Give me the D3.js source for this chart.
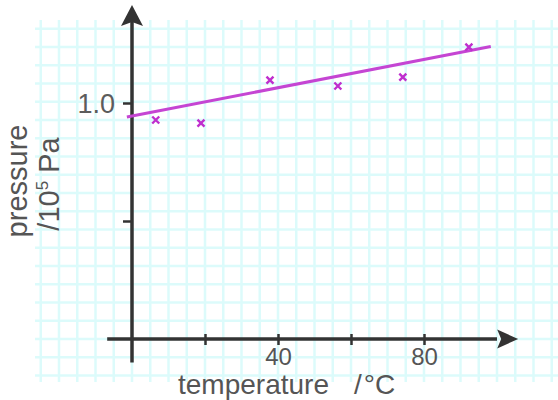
<!DOCTYPE html>
<html>
<head>
<meta charset="utf-8">
<script src="https://cdn.jsdelivr.net/npm/d3@7"></script>
<style>
  body { margin: 0; background: #fff; }
  svg { display: block; }
  text { font-family: "Liberation Sans", Arial, sans-serif; }
</style>
</head>
<body>
<div id="container"></div>
<script>
/* DATA */
const temperatures = [6.5, 18.9, 37.8, 56.4, 74.2, 92.3];
const pressures = [0.928, 0.915, 1.097, 1.072, 1.110, 1.237];
// best-fit line drawn on the graph (two ends)
const fitTemps = [-1.4, 98.3];
const fitPressures = [0.941, 1.239];
const xTicks = [20, 40, 60, 80];
const xTickLabels = ["", "40", "", "80"];
const yTicks = [0.5, 1.0];
const yTickLabels = ["", "1.0"];

const width = 558, height = 400;

/* SCALES */
const x = d3.scaleLinear().domain([0, 80]).range([132, 424]);
const y = d3.scaleLinear().domain([0, 1]).range([339, 103]);

const svg = d3.select("#container").append("svg")
  .attr("width", width)
  .attr("height", height);

/* GRAPH PAPER GRID */
const cell = x(5) - x(0);
const gridBox = { x0: 35, x1: 558, y0: 20, y1: 382 };
const grid = svg.append("g").attr("stroke", "#dcfbfb").attr("stroke-width", 2.5);

d3.range(-25, 120, 5).forEach(t => {
  grid.append("line")
    .attr("x1", x(t)).attr("x2", x(t))
    .attr("y1", gridBox.y0).attr("y2", gridBox.y1);
});
d3.range(-2, 18).forEach(k => {
  const py = y(0) - k * cell;
  grid.append("line")
    .attr("x1", gridBox.x0).attr("x2", gridBox.x1)
    .attr("y1", py).attr("y2", py);
});

/* AXES */
const axisColor = "#333";

// x axis
const xAxis = svg.append("g")
  .attr("transform", "translate(0," + y(0) + ")")
  .call(d3.axisBottom(x).tickValues(xTicks).tickSize(6).tickFormat((d, i) => xTickLabels[i]));
xAxis.select(".domain").remove();
xAxis.selectAll(".tick line")
  .attr("y1", -5)
  .attr("stroke", axisColor)
  .attr("stroke-width", 2.5);
xAxis.selectAll(".tick text")
  .attr("y", 26)
  .attr("dy", 0)
  .attr("fill", "#555")
  .style("font-size", "24px");

// y axis
const yAxis = svg.append("g")
  .attr("transform", "translate(" + x(0) + ",0)")
  .call(d3.axisLeft(y).tickValues(yTicks).tickSize(9).tickPadding(8).tickFormat((d, i) => yTickLabels[i]));
yAxis.select(".domain").remove();
yAxis.selectAll(".tick line")
  .attr("stroke", axisColor)
  .attr("stroke-width", 2.5);
yAxis.selectAll(".tick text")
  .attr("dy", "0.36em")
  .attr("fill", "#5c5c5c")
  .style("font-size", "27px");

// axis lines with arrows
svg.append("line")
  .attr("x1", x(-6.8)).attr("x2", x(100))
  .attr("y1", y(0)).attr("y2", y(0))
  .attr("stroke", axisColor).attr("stroke-width", 3.5);
svg.append("line")
  .attr("x1", x(0)).attr("x2", x(0))
  .attr("y1", y(-0.1)).attr("y2", y(1.35))
  .attr("stroke", axisColor).attr("stroke-width", 3.5);

const xTip = x(105.8), yTip = y(1.415);
svg.append("path")
  .attr("d", `M${xTip},${y(0)} L${xTip - 21},${y(0) - 9.5} L${xTip - 17},${y(0)} L${xTip - 21},${y(0) + 9.5} Z`)
  .attr("fill", axisColor);
svg.append("path")
  .attr("d", `M${x(0)},${yTip} L${x(0) - 11},${yTip + 21} L${x(0)},${yTip + 17} L${x(0) + 11},${yTip + 21} Z`)
  .attr("fill", axisColor);

/* BEST-FIT LINE */
const genline = d3.line()
  .x(d => x(d[0]))
  .y(d => y(d[1]));

svg.append("path")
  .datum(d3.zip(fitTemps, fitPressures))
  .attr("d", genline)
  .attr("fill", "none")
  .attr("stroke", "#c545d3")
  .attr("stroke-width", 3);

/* DATA POINTS (crosses) */
svg.append("g")
  .selectAll("path")
  .data(d3.zip(temperatures, pressures))
  .join("path")
  .attr("transform", d => "translate(" + x(d[0]) + "," + y(d[1]) + ")")
  .attr("d", "M-3.5,-3.5L3.5,3.5M-3.5,3.5L3.5,-3.5")
  .attr("stroke", "#bf2fce")
  .attr("stroke-width", 2.4);

/* AXIS TITLES */
const xTitle = svg.append("text")
  .attr("x", 178)
  .attr("y", 394)
  .attr("fill", "#555")
  .style("font-size", "28px");
xTitle.append("tspan").text("temperature");
xTitle.append("tspan").attr("x", 354).text("/");
xTitle.append("tspan").attr("dx", 2).text("°");
xTitle.append("tspan").text("C");

const yTitle = svg.append("text")
  .attr("transform", "translate(27,181) rotate(-90)")
  .attr("text-anchor", "middle")
  .attr("fill", "#555")
  .style("font-size", "29px");
yTitle.append("tspan").attr("x", 0).attr("y", 0).text("pressure");

const yTitle2 = svg.append("text")
  .attr("transform", "translate(59,184) rotate(-90)")
  .attr("text-anchor", "middle")
  .attr("fill", "#555")
  .style("font-size", "29px");
yTitle2.append("tspan").text("/10");
yTitle2.append("tspan").attr("dy", -11).style("font-size", "17px").text("5");
yTitle2.append("tspan").attr("dy", 11).text(" Pa");
</script>
</body>
</html>
